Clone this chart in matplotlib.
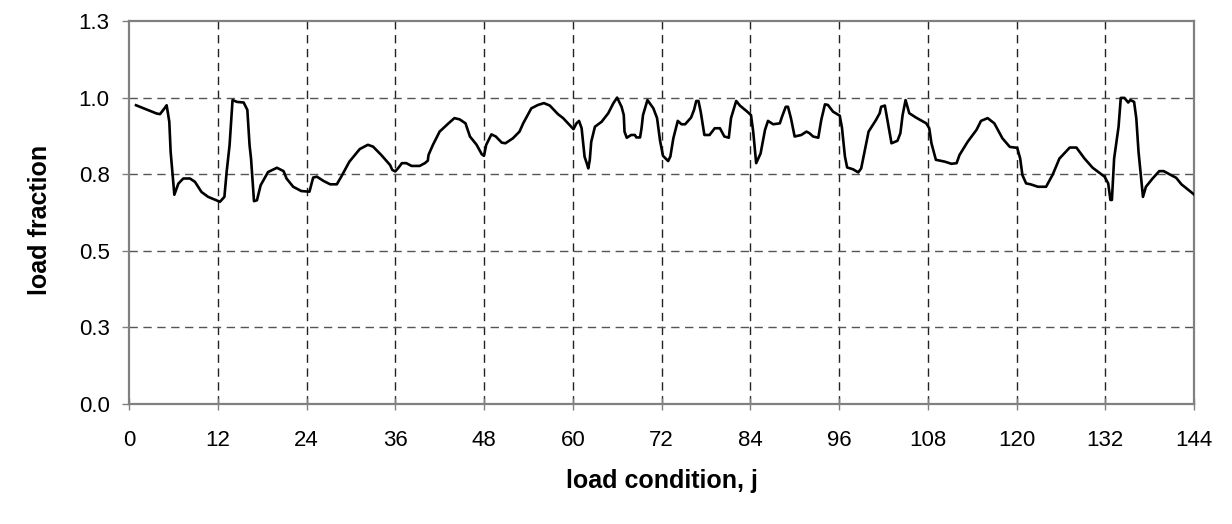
import matplotlib
matplotlib.use("Agg")
import matplotlib.pyplot as plt

# load condition j and load fraction
j = [0.95, 3.74, 4.19, 4.77, 5.09, 5.45, 5.63, 6.13, 6.67, 7.34, 8.24, 8.92, 9.8, 10.7,
     12.3, 12.9, 13.2, 13.6, 14.0, 14.6, 15.5, 16.0, 16.3, 16.5, 16.9, 17.3, 17.8, 18.8,
     20.0, 20.9, 21.3, 22.2, 23.3, 24.4, 24.9, 25.4, 26.3, 27.2, 28.1, 28.7, 29.8, 31.2,
     32.3, 33.0, 34.1, 35.3, 35.6, 36.0, 36.4, 36.9, 37.5, 38.2, 39.3, 40.0, 40.4, 40.5,
     41.1, 42.0, 43.2, 44.0, 44.7, 45.5, 46.1, 47.0, 47.7, 48.0, 48.3, 49.0, 49.6, 50.4,
     50.9, 51.9, 52.8, 53.3, 54.4, 55.3, 56.1, 56.9, 58.0, 58.7, 60.1, 60.5, 60.85, 61.2,
     61.6, 61.9, 62.1, 62.3, 62.5, 63.0, 63.9, 64.8, 65.5, 66.0, 66.6, 66.9, 67.0, 67.3,
     67.9, 68.4, 68.6, 69.1, 69.3, 69.5, 70.1, 70.9, 71.4, 71.8, 72.2, 72.9, 73.2, 73.6,
     74.2, 74.7, 75.2, 76.0, 76.4, 76.7, 77.0, 77.3, 77.8, 78.5, 79.2, 79.9, 80.5, 81.1,
     81.4, 82.1, 82.6, 83.5, 84.1, 84.4, 84.8, 85.4, 86.0, 86.4, 87.1, 88.0, 88.3, 88.8,
     89.1, 89.5, 90.0, 90.9, 91.6, 92.0, 92.5, 93.2, 93.6, 94.1, 94.5, 95.2, 96.1, 96.4,
     96.8, 97.1, 97.9, 98.6, 99.0, 100.0, 101.0, 101.5, 101.7, 102.2, 102.5, 103.1, 103.9,
     104.3, 104.6, 105.0, 105.5, 106.4, 107.8, 108.2, 108.5, 109.1, 110.3, 111.2, 111.9,
     112.3, 113.4, 114.6, 115.2, 116.1, 117.0, 118.1, 119.1, 120.1, 120.5, 120.8, 121.3,
     121.9, 122.9, 124.0, 124.9, 125.8, 127.2, 128.1, 129.2, 130.3, 131.9, 132.4, 132.7,
     132.9, 133.2, 133.8, 134.1, 134.6, 135.1, 135.4, 135.9, 136.2, 136.5, 137.1, 137.5,
     138.4, 139.3, 139.9, 141.6, 142.3, 144.0]
load = [0.975, 0.948, 0.946, 0.964, 0.975, 0.921, 0.823, 0.683, 0.719, 0.736, 0.736, 0.725, 0.692, 0.676,
        0.660, 0.676, 0.757, 0.845, 0.992, 0.986, 0.984, 0.960, 0.845, 0.801, 0.662, 0.665, 0.714, 0.757,
        0.771, 0.760, 0.736, 0.709, 0.695, 0.693, 0.739, 0.742, 0.728, 0.717, 0.717, 0.742, 0.791, 0.832,
        0.846, 0.840, 0.813, 0.780, 0.764, 0.759, 0.770, 0.786, 0.786, 0.777, 0.777, 0.786, 0.794, 0.813,
        0.846, 0.889, 0.916, 0.933, 0.929, 0.916, 0.873, 0.846, 0.815, 0.810, 0.846, 0.880, 0.873, 0.853,
        0.851, 0.867, 0.889, 0.916, 0.965, 0.976, 0.982, 0.974, 0.946, 0.933, 0.897, 0.916, 0.924, 0.900,
        0.807, 0.785, 0.769, 0.796, 0.856, 0.905, 0.921, 0.949, 0.982, 1.000, 0.970, 0.943, 0.889, 0.869,
        0.878, 0.878, 0.870, 0.870, 0.900, 0.943, 0.992, 0.965, 0.933, 0.860, 0.810, 0.793, 0.808, 0.867,
        0.924, 0.913, 0.913, 0.935, 0.960, 0.989, 0.989, 0.954, 0.878, 0.878, 0.900, 0.900, 0.873, 0.869,
        0.933, 0.989, 0.974, 0.956, 0.943, 0.889, 0.786, 0.818, 0.895, 0.924, 0.913, 0.916, 0.938, 0.970,
        0.970, 0.933, 0.873, 0.878, 0.889, 0.884, 0.873, 0.869, 0.927, 0.978, 0.976, 0.954, 0.941, 0.902,
        0.808, 0.772, 0.766, 0.756, 0.769, 0.889, 0.927, 0.949, 0.970, 0.974, 0.933, 0.851, 0.859,
        0.884, 0.943, 0.992, 0.949, 0.935, 0.916, 0.900, 0.851, 0.797, 0.791, 0.784, 0.786,
        0.813, 0.856, 0.895, 0.924, 0.933, 0.916, 0.867, 0.839, 0.836, 0.801, 0.747, 0.720,
        0.717, 0.709, 0.709, 0.749, 0.801, 0.837, 0.837, 0.801, 0.771, 0.742, 0.720, 0.666,
        0.666, 0.801, 0.905, 0.999, 0.999, 0.984, 0.992, 0.986, 0.932, 0.823, 0.676, 0.709,
        0.736, 0.760, 0.760, 0.738, 0.717, 0.684]

x_ticks = [0, 12, 24, 36, 48, 60, 72, 84, 96, 108, 120, 132, 144]
y_ticks = [0.0, 0.25, 0.5, 0.75, 1.0, 1.25]
y_tick_labels = ["0.0", "0.3", "0.5", "0.8", "1.0", "1.3"]

plt.rcParams['font.family'] = ['Liberation Sans', 'DejaVu Sans']

fig = plt.figure(figsize=(12.32, 5.24), dpi=100)
ax = fig.add_axes([129 / 1232, 1 - 404 / 524, (1194 - 129) / 1232, (404 - 21) / 524])

ax.plot(j, load, color='black', lw=1.9, zorder=3, solid_joinstyle='round')

ax.set_xlim(0, 144)
ax.set_ylim(0, 1.25)
ax.set_xticks(x_ticks)
ax.set_xticklabels([str(t) for t in x_ticks], fontsize=16)
ax.set_yticks(y_ticks)
ax.set_yticklabels(y_tick_labels, fontsize=16)

for x in x_ticks[1:-1]:
    ax.axvline(x, color='#222222', lw=1.0, ls=(0, (6, 4)), zorder=1)
for y in y_ticks[1:-1]:
    ax.axhline(y, color='#555555', lw=1.0, ls=(0, (6, 4)), zorder=1)

for s in ax.spines.values():
    s.set_color('#808080')
    s.set_linewidth(1.6)

ax.tick_params(axis='x', direction='inout', length=8, width=1.0, color='#808080', pad=15)
ax.tick_params(axis='y', direction='out', length=5, width=1.0, color='#808080', pad=9)

ax.set_xlabel('load condition, j', fontsize=18, fontweight='bold', labelpad=13)
ax.set_ylabel('load fraction', fontsize=18, fontweight='bold')
ax.yaxis.set_label_coords(-0.072, 0.48)

fig.savefig('out.png', dpi=100)
